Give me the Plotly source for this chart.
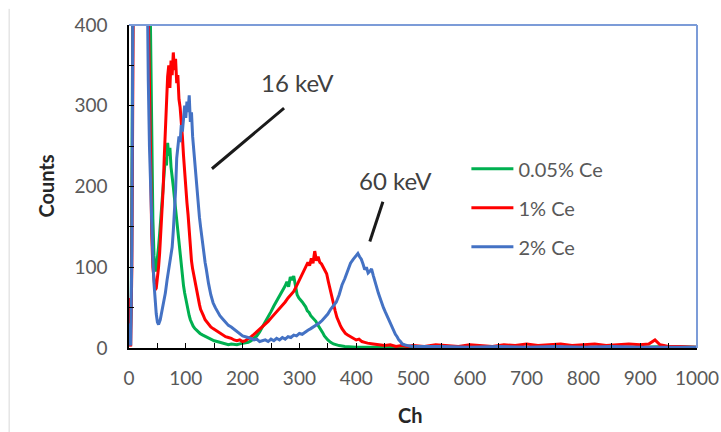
import plotly.graph_objects as go

# ---------------- data ----------------
green_ch = [0, 2, 4, 6, 8, 20, 30, 36, 38, 40, 42, 44, 46, 48, 50,
            52, 54, 56, 58, 60, 62, 64, 66, 68, 70, 72, 74, 76, 78, 80,
            82, 84, 86, 88, 90, 92, 94, 96, 98, 100, 102, 104, 106, 108, 110,
            113, 116, 119, 122, 125, 130, 135, 140, 145, 150, 155, 160, 165, 170, 175,
            180, 190, 200, 210, 215, 220, 225, 230, 235, 240, 245, 250, 255, 260, 265,
            270, 275, 278, 281, 284, 287, 290, 293, 296, 299, 302, 305, 308, 311, 314,
            317, 320, 323, 326, 329, 332, 335, 338, 341, 344, 347, 350, 355, 360, 370,
            380, 400, 450, 500, 600, 700, 800, 900, 950, 1000]
green_cnt = [15, 3, 60, 300, 600, 800, 700, 500, 380, 250, 160, 115, 95, 98, 110,
             125, 142, 160, 182, 200, 222, 236, 226, 254, 238, 248, 224, 214, 200, 186,
             172, 160, 142, 126, 112, 98, 88, 77, 68, 60, 52, 45, 40, 35, 31,
             27, 24, 22, 20, 18, 16, 14, 12, 11, 9, 8, 7, 6, 5, 4,
             5, 4, 6, 7, 9, 12, 15, 20, 26, 32, 38, 45, 52, 58, 64,
             70, 77, 82, 76, 88, 84, 89, 76, 66, 62, 60, 57, 54, 51, 46,
             44, 40, 38, 35, 33, 29, 26, 22, 19, 15, 12, 10, 7, 5, 3,
             2, 1, 1, 1, 1, 0, 1, 1, 2, 1]

red_ch = [0, 1, 2, 3, 5, 7, 10, 20, 30, 34, 36, 38, 40, 42, 44,
          46, 48, 50, 52, 54, 56, 58, 60, 62, 64, 66, 68, 70, 72, 74,
          76, 78, 80, 82, 84, 86, 88, 90, 92, 94, 96, 98, 100, 102, 104,
          106, 108, 110, 112, 114, 116, 118, 120, 122, 124, 126, 128, 131, 134, 137,
          140, 144, 148, 152, 156, 160, 165, 170, 175, 180, 185, 190, 195, 200, 205,
          210, 215, 220, 225, 230, 235, 240, 245, 250, 255, 260, 265, 270, 275, 280,
          285, 290, 295, 300, 303, 306, 309, 312, 315, 318, 321, 324, 327, 330, 333,
          336, 339, 342, 345, 348, 351, 354, 357, 360, 363, 366, 369, 372, 375, 378,
          381, 385, 390, 395, 400, 405, 410, 415, 420, 430, 440, 450, 460, 470, 480,
          490, 500, 520, 540, 560, 580, 600, 620, 640, 660, 680, 700, 720, 740, 760,
          780, 800, 820, 840, 860, 880, 900, 915, 926, 935, 950, 970, 1000]
red_cnt = [62, 55, 5, 2, 100, 450, 750, 800, 600, 420, 300, 200, 140, 100, 80,
           72, 74, 84, 100, 118, 140, 165, 195, 235, 270, 308, 336, 350, 322, 356,
           338, 366, 344, 358, 328, 338, 308, 298, 282, 262, 238, 215, 196, 180, 165,
           142, 122, 108, 98, 90, 82, 73, 66, 60, 54, 48, 44, 40, 35, 32,
           30, 26, 24, 22, 20, 18, 16, 14, 13, 12, 10, 9, 10, 8, 9,
           11, 14, 17, 20, 23, 26, 30, 33, 37, 41, 44, 48, 53, 57, 62,
           66, 70, 77, 84, 88, 93, 97, 100, 106, 102, 111, 105, 120, 108, 113,
           106, 104, 100, 96, 92, 82, 72, 63, 55, 46, 38, 32, 28, 24, 21,
           18, 16, 14, 12, 10, 11, 8, 7, 6, 5, 4, 3, 4, 2, 3,
           2, 3, 2, 4, 3, 2, 4, 3, 2, 4, 3, 5, 3, 4, 5,
           3, 4, 5, 3, 4, 5, 4, 5, 10, 4, 2, 2, 1]

blue_ch = [0, 1, 2, 3, 5, 7, 10, 20, 30, 32, 34, 36, 38, 40, 42,
           44, 46, 48, 50, 52, 55, 58, 61, 64, 67, 70, 73, 76, 78, 80,
           82, 84, 86, 88, 90, 92, 94, 96, 98, 100, 102, 104, 106, 108, 110,
           112, 114, 116, 118, 120, 122, 124, 126, 128, 130, 132, 134, 136, 138, 140,
           144, 148, 152, 156, 160, 165, 170, 175, 180, 185, 190, 195, 200, 205, 210,
           215, 220, 225, 230, 235, 240, 245, 250, 255, 260, 265, 270, 275, 280, 285,
           290, 295, 300, 305, 310, 315, 320, 325, 330, 335, 340, 345, 350, 355, 360,
           365, 370, 375, 380, 385, 390, 395, 400, 403, 406, 409, 412, 415, 418, 421,
           424, 427, 430, 433, 436, 439, 442, 445, 448, 451, 454, 457, 460, 463, 466,
           469, 472, 475, 478, 481, 485, 490, 500, 550, 600, 650, 700, 750, 800, 850,
           900, 950, 1000]
blue_cnt = [25, 30, 8, 3, 120, 450, 700, 820, 600, 420, 330, 250, 195, 150, 110,
            80, 58, 42, 32, 29, 35, 45, 55, 68, 84, 98, 110, 125, 145, 165,
            195, 235, 250, 262, 255, 276, 268, 290, 300, 285, 305, 292, 313, 280, 292,
            262, 245, 222, 210, 198, 178, 162, 150, 138, 126, 116, 106, 98, 88, 80,
            66, 56, 50, 45, 40, 36, 32, 28, 26, 23, 20, 18, 15, 14, 13,
            12, 10, 11, 8, 9, 10, 8, 11, 9, 12, 10, 13, 11, 14, 13,
            16, 15, 18, 17, 20, 22, 24, 26, 28, 31, 34, 38, 42, 48, 52,
            57, 66, 78, 86, 97, 105, 110, 114, 117, 113, 110, 104, 97, 100, 93,
            95, 98, 90, 82, 74, 68, 62, 55, 50, 45, 40, 35, 31, 26, 22,
            17, 14, 10, 8, 5, 4, 3, 2, 2, 1, 2, 1, 2, 1, 2,
            1, 1, 1]

series_names = ["0.05% Ce", "1% Ce", "2% Ce"]
series_colors = ["#00B050", "#FF0000", "#4472C4"]

x_tick_vals = [0, 100, 200, 300, 400, 500, 600, 700, 800, 900, 1000]
y_tick_vals = [0, 100, 200, 300, 400]

peak_labels = ["16 keV", "60 keV"]
peak_label_pos = [(296, 329), (470, 207)]
peak_pointer = [((146, 222), (273, 297)), ((424, 132), (447, 181))]

# ---------------- figure ----------------
FONT = "Lato"
fig = go.Figure()
for name, color, xs, ys, grp in zip(series_names, series_colors,
                                    [green_ch, red_ch, blue_ch],
                                    [green_cnt, red_cnt, blue_cnt],
                                    ["g", "r", "b"]):
    fig.add_trace(go.Scatter(x=xs, y=ys, mode="lines", name=name,
                             legendgroup=grp,
                             line=dict(color=color, width=3)))

axis_common = dict(showgrid=False, zeroline=False, showline=True,
                   linecolor="black", linewidth=1.5, automargin=False,
                   ticks="inside", ticklen=5, tickcolor="black", tickwidth=1.3,
                   tickfont=dict(family=FONT, size=19, color="#595959"))

fig.update_xaxes(range=[0, 1000], tickvals=x_tick_vals,
                 minor=dict(dtick=50, ticks="inside", ticklen=5,
                            tickcolor="black", tickwidth=1.3),
                 ticklabelstandoff=12, **axis_common)
fig.update_yaxes(range=[0, 400], tickvals=y_tick_vals,
                 minor=dict(dtick=50, ticks="inside", ticklen=5,
                            tickcolor="black", tickwidth=1.3),
                 ticklabelstandoff=16, **axis_common)

# plot-area border on top and right (blue)
fig.add_shape(type="line", xref="paper", yref="paper", x0=0, x1=1, y0=1, y1=1,
              line=dict(color="#7C9CD8", width=2))
fig.add_shape(type="line", xref="paper", yref="paper", x0=1, x1=1, y0=0, y1=1,
              line=dict(color="#7C9CD8", width=2))
# faint frame line at far left
fig.add_shape(type="line", xref="paper", yref="paper", x0=-0.211, x1=-0.211,
              y0=-0.27, y1=1.05, line=dict(color="#D9D9D9", width=1))

for txt, (lx, ly), ((x0, y0), (x1, y1)) in zip(peak_labels, peak_label_pos, peak_pointer):
    fig.add_annotation(x=lx, y=ly, text=txt, showarrow=False,
                       font=dict(family=FONT, size=24, color="#404040"))
    fig.add_shape(type="line", x0=x0, y0=y0, x1=x1, y1=y1,
                  line=dict(color="#1a1a1a", width=3))

# axis titles
fig.add_annotation(xref="paper", yref="paper", x=-0.1725, y=0.5, text="<b>Counts</b>",
                   textangle=-90, showarrow=False,
                   font=dict(family=FONT, size=20, color="#262626"))
fig.add_annotation(xref="paper", yref="paper", x=0.495, y=-0.25, text="<b>Ch</b>",
                   showarrow=False, font=dict(family=FONT, size=20, color="#262626"))

fig.update_layout(
    width=721, height=432,
    margin=dict(l=129, r=24, t=25, b=84, autoexpand=False),
    paper_bgcolor="white", plot_bgcolor="white",
    showlegend=True,
    legend=dict(x=0.594, y=0.615, xanchor="left", yanchor="top",
                traceorder="grouped", tracegroupgap=10, itemwidth=42,
                bgcolor="rgba(0,0,0,0)",
                font=dict(family=FONT, size=20, color="#595959")),
)

fig.write_html("out.html")
